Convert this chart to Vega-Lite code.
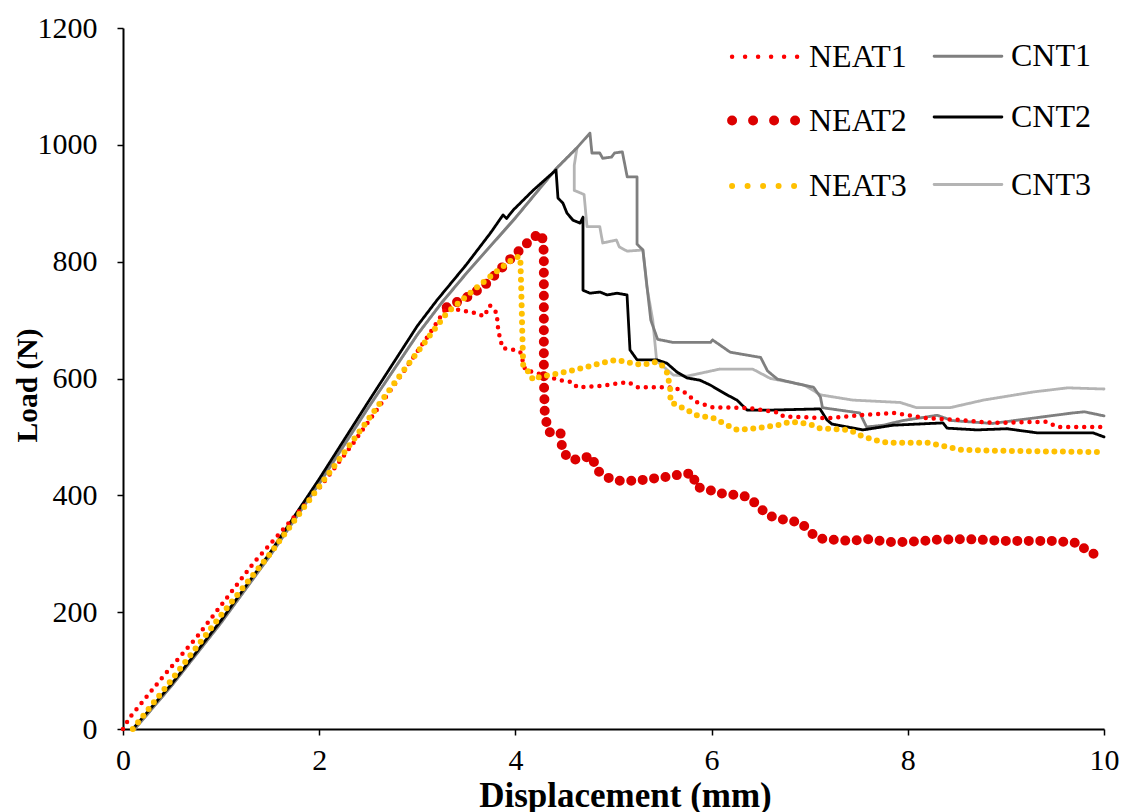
{
  "$schema": "https://vega.github.io/schema/vega-lite/v6.json",
  "width": 981,
  "height": 701,
  "autosize": {"type": "none"},
  "padding": {"left": 123, "top": 28, "right": 22, "bottom": 83},
  "background": "white",
  "config": {"view": {"stroke": null}},
  "datasets": {
    "pts": [
      {"s":"NEAT2","x":3.3,"y":722},{"s":"NEAT2","x":3.36,"y":727},{"s":"NEAT2","x":3.54,"y":742},{"s":"NEAT2","x":3.71,"y":763},{"s":"NEAT2","x":3.87,"y":791},{"s":"NEAT2","x":3.98,"y":810},{"s":"NEAT2","x":4.08,"y":825},{"s":"NEAT2","x":4.18,"y":842},{"s":"NEAT2","x":4.27,"y":848},{"s":"NEAT2","x":4.29,"y":816},{"s":"NEAT2","x":4.29,"y":700},{"s":"NEAT2","x":4.29,"y":600},{"s":"NEAT2","x":4.3,"y":537},{"s":"NEAT2","x":4.34,"y":508},{"s":"NEAT2","x":4.46,"y":507},{"s":"NEAT2","x":4.48,"y":474},{"s":"NEAT2","x":4.58,"y":460},{"s":"NEAT2","x":4.68,"y":464},{"s":"NEAT2","x":4.78,"y":467},{"s":"NEAT2","x":4.83,"y":443},{"s":"NEAT2","x":4.93,"y":431},{"s":"NEAT2","x":5.04,"y":425},{"s":"NEAT2","x":5.15,"y":425},{"s":"NEAT2","x":5.25,"y":425},{"s":"NEAT2","x":5.35,"y":428},{"s":"NEAT2","x":5.48,"y":430},{"s":"NEAT2","x":5.58,"y":433},{"s":"NEAT2","x":5.7,"y":436},{"s":"NEAT2","x":5.81,"y":438},{"s":"NEAT2","x":5.84,"y":414},{"s":"NEAT2","x":5.95,"y":411},{"s":"NEAT2","x":6.06,"y":404},{"s":"NEAT2","x":6.17,"y":402},{"s":"NEAT2","x":6.29,"y":400},{"s":"NEAT2","x":6.37,"y":397},{"s":"NEAT2","x":6.47,"y":383},{"s":"NEAT2","x":6.57,"y":366},{"s":"NEAT2","x":6.67,"y":361},{"s":"NEAT2","x":6.79,"y":356},{"s":"NEAT2","x":6.9,"y":354},{"s":"NEAT2","x":6.98,"y":342},{"s":"NEAT2","x":7.07,"y":327},{"s":"NEAT2","x":7.17,"y":325},{"s":"NEAT2","x":7.4,"y":322},{"s":"NEAT2","x":7.6,"y":325},{"s":"NEAT2","x":7.8,"y":320},{"s":"NEAT2","x":8,"y":320},{"s":"NEAT2","x":8.3,"y":324},{"s":"NEAT2","x":8.6,"y":325},{"s":"NEAT2","x":9,"y":322},{"s":"NEAT2","x":9.5,"y":322},{"s":"NEAT2","x":9.75,"y":318},{"s":"NEAT2","x":9.83,"y":303},{"s":"NEAT2","x":9.93,"y":298},{"s":"NEAT2","x":10,"y":298},

      {"s":"CNT3","x":0.12,"y":0},{"s":"CNT3","x":0.5,"y":75},{"s":"CNT3","x":1,"y":182},{"s":"CNT3","x":1.5,"y":297},{"s":"CNT3","x":2,"y":420},{"s":"CNT3","x":2.5,"y":550},{"s":"CNT3","x":3,"y":675},{"s":"CNT3","x":3.25,"y":730},{"s":"CNT3","x":3.5,"y":780},{"s":"CNT3","x":4,"y":875},{"s":"CNT3","x":4.42,"y":960},{"s":"CNT3","x":4.628,"y":995},
      {"s":"CNT3","x":4.6,"y":965},{"s":"CNT3","x":4.6,"y":922},{"s":"CNT3","x":4.7,"y":915},{"s":"CNT3","x":4.73,"y":860},{"s":"CNT3","x":4.86,"y":860},{"s":"CNT3","x":4.89,"y":832},{"s":"CNT3","x":5.03,"y":837},{"s":"CNT3","x":5.06,"y":825},{"s":"CNT3","x":5.14,"y":818},{"s":"CNT3","x":5.3,"y":820},{"s":"CNT3","x":5.34,"y":757},{"s":"CNT3","x":5.4,"y":700},{"s":"CNT3","x":5.44,"y":630},{"s":"CNT3","x":5.61,"y":606},{"s":"CNT3","x":5.75,"y":604},{"s":"CNT3","x":6.08,"y":616},{"s":"CNT3","x":6.42,"y":616},{"s":"CNT3","x":6.6,"y":600},{"s":"CNT3","x":6.94,"y":589},{"s":"CNT3","x":7.11,"y":572},{"s":"CNT3","x":7.44,"y":563},{"s":"CNT3","x":7.92,"y":559},{"s":"CNT3","x":8.09,"y":550},{"s":"CNT3","x":8.43,"y":550},{"s":"CNT3","x":8.77,"y":563},{"s":"CNT3","x":9.28,"y":577},{"s":"CNT3","x":9.63,"y":584},{"s":"CNT3","x":10,"y":582},

      {"s":"CNT1","x":0.12,"y":0},{"s":"CNT1","x":0.5,"y":75},{"s":"CNT1","x":1,"y":182},{"s":"CNT1","x":1.5,"y":297},{"s":"CNT1","x":2,"y":420},{"s":"CNT1","x":2.5,"y":550},{"s":"CNT1","x":3,"y":675},{"s":"CNT1","x":3.25,"y":730},{"s":"CNT1","x":3.5,"y":780},{"s":"CNT1","x":4,"y":875},{"s":"CNT1","x":4.42,"y":960},{"s":"CNT1","x":4.628,"y":995},{"s":"CNT1","x":4.76,"y":1020},
      {"s":"CNT1","x":4.78,"y":986},{"s":"CNT1","x":4.86,"y":986},{"s":"CNT1","x":4.89,"y":977},{"s":"CNT1","x":4.98,"y":979},{"s":"CNT1","x":5.01,"y":986},{"s":"CNT1","x":5.09,"y":988},{"s":"CNT1","x":5.14,"y":945},{"s":"CNT1","x":5.24,"y":945},{"s":"CNT1","x":5.24,"y":830},{"s":"CNT1","x":5.3,"y":820},{"s":"CNT1","x":5.38,"y":700},{"s":"CNT1","x":5.45,"y":667},{"s":"CNT1","x":5.6,"y":662},{"s":"CNT1","x":5.99,"y":662},{"s":"CNT1","x":6.01,"y":666},{"s":"CNT1","x":6.19,"y":645},{"s":"CNT1","x":6.5,"y":636},{"s":"CNT1","x":6.57,"y":613},{"s":"CNT1","x":6.67,"y":599},{"s":"CNT1","x":6.9,"y":590},{"s":"CNT1","x":7.04,"y":585},{"s":"CNT1","x":7.11,"y":568},{"s":"CNT1","x":7.13,"y":550},{"s":"CNT1","x":7.51,"y":541},{"s":"CNT1","x":7.58,"y":517},{"s":"CNT1","x":7.75,"y":520},{"s":"CNT1","x":7.95,"y":528},{"s":"CNT1","x":8.3,"y":537},{"s":"CNT1","x":8.45,"y":528},{"s":"CNT1","x":8.86,"y":523},{"s":"CNT1","x":9.27,"y":532},{"s":"CNT1","x":9.68,"y":541},{"s":"CNT1","x":9.8,"y":543},{"s":"CNT1","x":10,"y":536},

      {"s":"CNT2","x":0.1,"y":0},{"s":"CNT2","x":0.5,"y":78},{"s":"CNT2","x":1,"y":186},{"s":"CNT2","x":1.5,"y":302},{"s":"CNT2","x":2,"y":428},{"s":"CNT2","x":2.5,"y":560},{"s":"CNT2","x":3,"y":690},{"s":"CNT2","x":3.2,"y":734},{"s":"CNT2","x":3.5,"y":795},{"s":"CNT2","x":3.75,"y":850},{"s":"CNT2","x":3.874,"y":880},{"s":"CNT2","x":3.91,"y":874},{"s":"CNT2","x":3.976,"y":888},{"s":"CNT2","x":4.18,"y":922},{"s":"CNT2","x":4.414,"y":957},
      {"s":"CNT2","x":4.434,"y":909},{"s":"CNT2","x":4.485,"y":900},{"s":"CNT2","x":4.526,"y":883},{"s":"CNT2","x":4.587,"y":871},{"s":"CNT2","x":4.659,"y":866},{"s":"CNT2","x":4.689,"y":876},{"s":"CNT2","x":4.689,"y":751},{"s":"CNT2","x":4.76,"y":746},{"s":"CNT2","x":4.862,"y":748},{"s":"CNT2","x":4.934,"y":743},{"s":"CNT2","x":5.036,"y":746},{"s":"CNT2","x":5.138,"y":743},{"s":"CNT2","x":5.168,"y":649},{"s":"CNT2","x":5.24,"y":632},{"s":"CNT2","x":5.443,"y":632},{"s":"CNT2","x":5.545,"y":626},{"s":"CNT2","x":5.647,"y":611},{"s":"CNT2","x":5.749,"y":601},{"s":"CNT2","x":5.882,"y":597},{"s":"CNT2","x":5.984,"y":589},{"s":"CNT2","x":6.157,"y":572},{"s":"CNT2","x":6.259,"y":563},{"s":"CNT2","x":6.361,"y":546},{"s":"CNT2","x":6.626,"y":546},{"s":"CNT2","x":7.105,"y":548},{"s":"CNT2","x":7.176,"y":529},{"s":"CNT2","x":7.227,"y":522},{"s":"CNT2","x":7.543,"y":512},{"s":"CNT2","x":7.849,"y":520},{"s":"CNT2","x":8.359,"y":524},{"s":"CNT2","x":8.4,"y":515},{"s":"CNT2","x":8.705,"y":512},{"s":"CNT2","x":9.011,"y":514},{"s":"CNT2","x":9.317,"y":507},{"s":"CNT2","x":9.888,"y":507},{"s":"CNT2","x":10,"y":500},

      {"s":"NEAT1","x":0,"y":0},{"s":"NEAT1","x":0.07,"y":20},{"s":"NEAT1","x":0.4,"y":88},{"s":"NEAT1","x":0.75,"y":157},{"s":"NEAT1","x":1.33,"y":284},{"s":"NEAT1","x":2,"y":412},{"s":"NEAT1","x":2.35,"y":490},{"s":"NEAT1","x":2.8,"y":597},{"s":"NEAT1","x":3.13,"y":678},{"s":"NEAT1","x":3.3,"y":722},{"s":"NEAT1","x":3.4,"y":718},{"s":"NEAT1","x":3.6,"y":712},{"s":"NEAT1","x":3.68,"y":706},{"s":"NEAT1","x":3.74,"y":725},{"s":"NEAT1","x":3.81,"y":712},{"s":"NEAT1","x":3.82,"y":690},{"s":"NEAT1","x":3.84,"y":671},{"s":"NEAT1","x":3.87,"y":652},{"s":"NEAT1","x":3.98,"y":649},{"s":"NEAT1","x":4.05,"y":645},{"s":"NEAT1","x":4.1,"y":615},{"s":"NEAT1","x":4.3,"y":605},{"s":"NEAT1","x":4.45,"y":597},{"s":"NEAT1","x":4.58,"y":594},{"s":"NEAT1","x":4.63,"y":585},{"s":"NEAT1","x":4.86,"y":587},{"s":"NEAT1","x":5.15,"y":594},{"s":"NEAT1","x":5.25,"y":585},{"s":"NEAT1","x":5.52,"y":585},{"s":"NEAT1","x":5.63,"y":584},{"s":"NEAT1","x":5.74,"y":575},{"s":"NEAT1","x":5.84,"y":560},{"s":"NEAT1","x":6,"y":551},{"s":"NEAT1","x":6.4,"y":549},{"s":"NEAT1","x":6.7,"y":541},{"s":"NEAT1","x":6.73,"y":535},{"s":"NEAT1","x":7.2,"y":532},{"s":"NEAT1","x":7.5,"y":537},{"s":"NEAT1","x":7.85,"y":541},{"s":"NEAT1","x":8.2,"y":532},{"s":"NEAT1","x":8.53,"y":529},{"s":"NEAT1","x":8.87,"y":524},{"s":"NEAT1","x":9.42,"y":526},{"s":"NEAT1","x":9.52,"y":517},{"s":"NEAT1","x":10,"y":517},

      {"s":"NEAT3","x":0.1,"y":0},{"s":"NEAT3","x":0.5,"y":85},{"s":"NEAT3","x":1,"y":195},{"s":"NEAT3","x":1.5,"y":300},{"s":"NEAT3","x":2,"y":415},{"s":"NEAT3","x":2.35,"y":495},{"s":"NEAT3","x":2.8,"y":600},{"s":"NEAT3","x":3.3,"y":712},{"s":"NEAT3","x":3.6,"y":755},{"s":"NEAT3","x":3.8,"y":782},{"s":"NEAT3","x":4,"y":808},{"s":"NEAT3","x":4.05,"y":808},{"s":"NEAT3","x":4.06,"y":750},{"s":"NEAT3","x":4.07,"y":680},{"s":"NEAT3","x":4.08,"y":620},{"s":"NEAT3","x":4.15,"y":609},{"s":"NEAT3","x":4.18,"y":597},{"s":"NEAT3","x":4.25,"y":603},{"s":"NEAT3","x":4.45,"y":609},{"s":"NEAT3","x":4.69,"y":618},{"s":"NEAT3","x":4.86,"y":626},{"s":"NEAT3","x":5.03,"y":632},{"s":"NEAT3","x":5.2,"y":626},{"s":"NEAT3","x":5.3,"y":623},{"s":"NEAT3","x":5.41,"y":628},{"s":"NEAT3","x":5.48,"y":626},{"s":"NEAT3","x":5.55,"y":609},{"s":"NEAT3","x":5.58,"y":580},{"s":"NEAT3","x":5.58,"y":560},{"s":"NEAT3","x":5.75,"y":546},{"s":"NEAT3","x":5.85,"y":537},{"s":"NEAT3","x":6.02,"y":532},{"s":"NEAT3","x":6.16,"y":520},{"s":"NEAT3","x":6.26,"y":512},{"s":"NEAT3","x":6.46,"y":515},{"s":"NEAT3","x":6.67,"y":520},{"s":"NEAT3","x":6.8,"y":526},{"s":"NEAT3","x":7,"y":522},{"s":"NEAT3","x":7.1,"y":515},{"s":"NEAT3","x":7.41,"y":512},{"s":"NEAT3","x":7.51,"y":503},{"s":"NEAT3","x":7.65,"y":495},{"s":"NEAT3","x":7.79,"y":490},{"s":"NEAT3","x":8.2,"y":490},{"s":"NEAT3","x":8.4,"y":483},{"s":"NEAT3","x":8.53,"y":478},{"s":"NEAT3","x":9,"y":476},{"s":"NEAT3","x":10,"y":474}
    ]
  },
  "data": {"name": "pts"},
  "mark": {"type": "line", "strokeCap": "round", "strokeJoin": "round", "clip": false},
  "encoding": {
    "x": {
      "field": "x", "type": "quantitative",
      "scale": {"domain": [0, 10], "nice": false, "zero": false},
      "axis": {
        "values": [0, 2, 4, 6, 8, 10], "grid": false, "format": "d", "labelFlush": false,
        "domainColor": "#000000", "domainWidth": 2,
        "tickColor": "#000000", "tickSize": 6, "tickWidth": 1.5,
        "labelFont": "Liberation Serif", "labelFontSize": 30, "labelColor": "#000000", "labelPadding": 10,
        "title": "Displacement (mm)", "titleFont": "Liberation Serif", "titleFontSize": 35, "titleFontWeight": "bold", "titleColor": "#000000",
        "titleX": 502, "titleY": 77, "titleBaseline": "alphabetic", "titleAlign": "center"
      }
    },
    "y": {
      "field": "y", "type": "quantitative",
      "scale": {"domain": [0, 1200], "nice": false},
      "axis": {
        "values": [0, 200, 400, 600, 800, 1000, 1200], "grid": false, "format": "d", "labelFlush": false,
        "domainColor": "#000000", "domainWidth": 2,
        "tickColor": "#000000", "tickSize": 6, "tickWidth": 1.5,
        "labelFont": "Liberation Serif", "labelFontSize": 30, "labelColor": "#000000", "labelPadding": 20,
        "title": "Load (N)", "titleFont": "Liberation Serif", "titleFontSize": 29.5, "titleFontWeight": "bold", "titleColor": "#000000",
        "titleX": -87, "titleY": 357, "titleAngle": -90, "titleBaseline": "alphabetic", "titleAlign": "center"
      }
    },
    "color": {
      "field": "s", "type": "nominal",
      "scale": {
        "domain": ["NEAT1", "NEAT2", "NEAT3", "CNT1", "CNT2", "CNT3"],
        "range": ["#FF0000", "#DC0000", "#FFC000", "#7F7F7F", "#000000", "#B4B4B4"]
      },
      "legend": {
        "orient": "none", "legendX": 604, "legendY": -8,
        "columns": 2, "title": null,
        "symbolType": "stroke", "symbolSize": 4600,
        "labelFont": "Liberation Serif", "labelFontSize": 32, "labelColor": "#000000", "labelOffset": 4,
        "columnPadding": 21, "rowPadding": 8.5,
        "encode": {
          "symbols": {
            "update": {
              "strokeCap": {"value": "round"},
              "strokeDash": {"signal": "datum.value === 'NEAT1' ? [0, 13] : datum.value === 'NEAT2' ? [0, 21] : datum.value === 'NEAT3' ? [0, 15.5] : [1, 0]"}
            }
          }
        }
      }
    },
    "strokeDash": {
      "condition": [
        {"test": "datum.s === 'NEAT1'", "value": [0, 8]},
        {"test": "datum.s === 'NEAT2'", "value": [0, 11.5]},
        {"test": "datum.s === 'NEAT3'", "value": [0, 8.5]}
      ],
      "value": [1, 0]
    },
    "strokeWidth": {
      "field": "s", "type": "nominal",
      "scale": {
        "type": "ordinal",
        "domain": ["NEAT1", "NEAT2", "NEAT3", "CNT1", "CNT2", "CNT3"],
        "range": [4.5, 10, 6, 2.8, 2.8, 2.8]
      },
      "legend": null
    },
    "order": {"value": null}
  }
}
